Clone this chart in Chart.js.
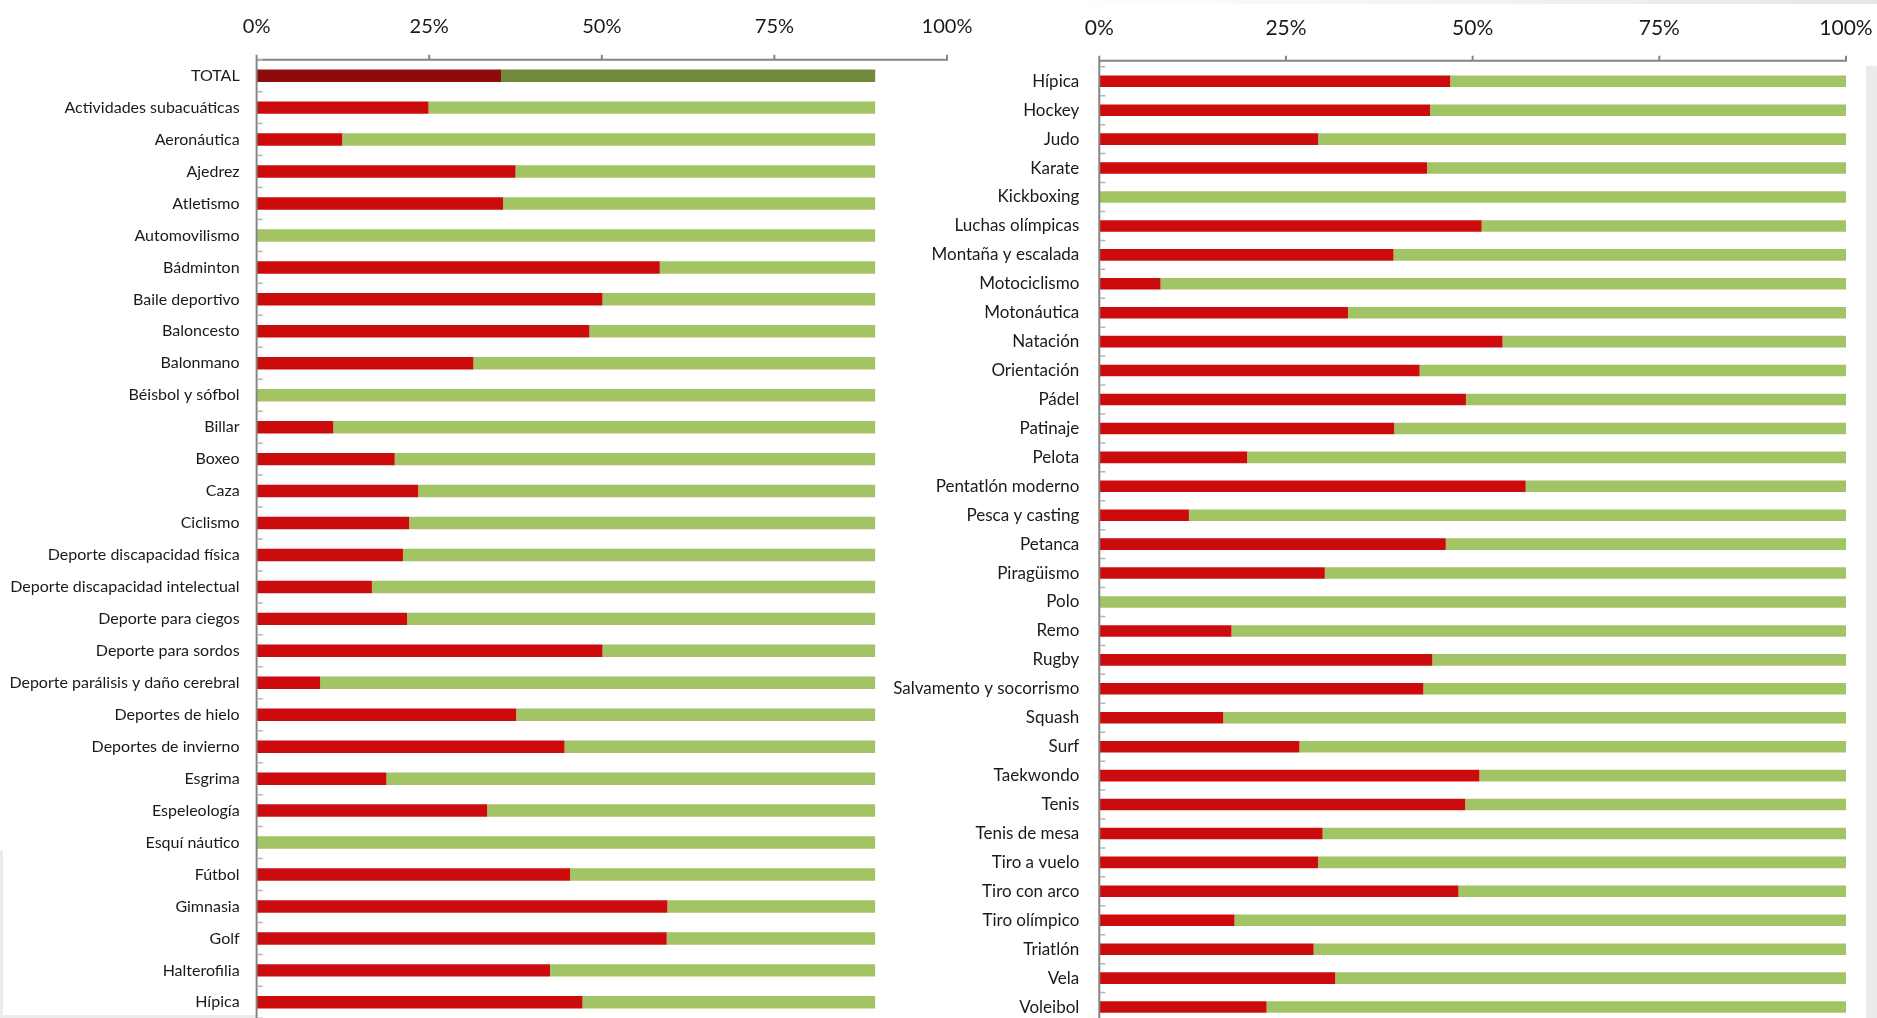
<!DOCTYPE html>
<html lang="es">
<head>
<meta charset="utf-8">
<title>Deportes</title>
<script src="https://cdn.jsdelivr.net/npm/chart.js@4.4.1/dist/chart.umd.min.js"></script>
<style>
  html, body { margin: 0; padding: 0; background: #fff; width: 1877px; height: 1018px; overflow: hidden; }
  canvas { position: absolute; top: 0; }
  #izq { left: 0; }
  #der { left: 860px; }
  .deco { position: absolute; }
</style>
</head>
<body>
<div class="deco" style="left:1866px;top:66px;width:11px;height:952px;background:#ebebeb"></div>
<div class="deco" style="left:1050px;top:0;width:827px;height:4px;background:linear-gradient(to right,#ffffff,#e6e6e6)"></div>
<div class="deco" style="left:0;top:850px;width:3px;height:168px;background:#ececec"></div>
<div class="deco" style="left:0;top:1015px;width:256px;height:3px;background:#ececec"></div>
<canvas id="izq" width="990" height="1030"></canvas>
<canvas id="der" width="1017" height="1035"></canvas>
<script>
// columna izquierda
const deportesIzq = ['TOTAL', 'Actividades subacuáticas', 'Aeronáutica', 'Ajedrez', 'Atletismo', 'Automovilismo',
  'Bádminton', 'Baile deportivo', 'Baloncesto', 'Balonmano', 'Béisbol y sófbol', 'Billar', 'Boxeo', 'Caza',
  'Ciclismo', 'Deporte discapacidad física', 'Deporte discapacidad intelectual', 'Deporte para ciegos',
  'Deporte para sordos', 'Deporte parálisis y daño cerebral', 'Deportes de hielo', 'Deportes de invierno',
  'Esgrima', 'Espeleología', 'Esquí náutico', 'Fútbol', 'Gimnasia', 'Golf', 'Halterofilia', 'Hípica'];
const rojoIzq = [35.4, 24.9, 12.4, 37.5, 35.7, 0, 58.4, 50.1, 48.2, 31.4, 0, 11.1, 20.0, 23.4, 22.1, 21.2, 16.7,
  21.8, 50.1, 9.2, 37.6, 44.6, 18.8, 33.4, 0, 45.4, 59.5, 59.4, 42.5, 47.2];
const verdeIzq = [54.2, 64.7, 77.2, 52.1, 53.9, 89.6, 31.2, 39.5, 41.4, 58.2, 89.6, 78.5, 69.6, 66.2, 67.5, 68.4,
  72.9, 67.8, 39.5, 80.4, 52.0, 45.0, 70.8, 56.2, 89.6, 44.2, 30.1, 30.2, 47.1, 42.4];

// columna derecha
const deportesDer = ['Hípica', 'Hockey', 'Judo', 'Karate', 'Kickboxing', 'Luchas olímpicas', 'Montaña y escalada',
  'Motociclismo', 'Motonáutica', 'Natación', 'Orientación', 'Pádel', 'Patinaje', 'Pelota', 'Pentatlón moderno',
  'Pesca y casting', 'Petanca', 'Piragüismo', 'Polo', 'Remo', 'Rugby', 'Salvamento y socorrismo', 'Squash', 'Surf',
  'Taekwondo', 'Tenis', 'Tenis de mesa', 'Tiro a vuelo', 'Tiro con arco', 'Tiro olímpico', 'Triatlón', 'Vela', 'Voleibol'];
const rojoDer = [47.0, 44.3, 29.3, 43.9, 0, 51.2, 39.4, 8.2, 33.3, 54.0, 42.9, 49.1, 39.5, 19.8, 57.1, 12.0, 46.4,
  30.2, 0, 17.7, 44.6, 43.4, 16.6, 26.8, 50.9, 49.0, 29.9, 29.3, 48.1, 18.1, 28.7, 31.6, 22.4];
const verdeDer = [53.0, 55.7, 70.7, 56.1, 100, 48.8, 60.6, 91.8, 66.7, 46.0, 57.1, 50.9, 60.5, 80.2, 42.9, 88.0, 53.6,
  69.8, 100, 82.3, 55.4, 56.6, 83.4, 73.2, 49.1, 51.0, 70.1, 70.7, 51.9, 81.9, 71.3, 68.4, 77.6];

const ticksPct = [0, 25, 50, 75, 100];

const ROJO = '#cc0c0c', VERDE = '#a3c465';
const ROJO_TOTAL = '#8f0a0a', VERDE_TOTAL = '#6f8a3a';

// lineas de ejes estilo excel (eje arriba separado un poco en la derecha)
const marcasEjes = {
  id: 'marcasEjes',
  afterDatasetsDraw(chart, args, opts) {
    const { ctx, chartArea, scales: { x, y } } = chart;
    const lineY = chartArea.top - opts.gap;
    const x0 = x.getPixelForValue(0);
    const x1 = x.getPixelForValue(100);
    ctx.save();
    ctx.strokeStyle = '#858585';
    ctx.lineWidth = 2;
    ctx.beginPath();
    ctx.moveTo(x0 - 1, lineY);
    ctx.lineTo(x1 + 1, lineY);
    ctx.moveTo(x0, lineY);
    ctx.lineTo(x0, chart.height);
    ticksPct.forEach(v => {
      const px = x.getPixelForValue(v);
      ctx.moveTo(px, lineY);
      ctx.lineTo(px, lineY - 5);
    });
    ctx.stroke();

    ctx.strokeStyle = '#b3b3b3';
    ctx.lineWidth = 1.5;
    ctx.beginPath();
    for (let i = 0; i <= y.ticks.length; i++) {
      const py = y.getPixelForValue(i - 0.5);
      ctx.moveTo(x0 + 1, py);
      ctx.lineTo(x0 + 6, py);
    }
    ctx.stroke();
    ctx.restore();
  }
};

function crearGrafico(id, etiquetas, rojo, verde, cfg) {
  const ctx = document.getElementById(id).getContext('2d');
  return new Chart(ctx, {
    type: 'bar',
    data: {
      labels: etiquetas,
      datasets: [
        {
          label: 'Sí',
          data: rojo,
          backgroundColor: etiquetas.map(e => e === 'TOTAL' ? ROJO_TOTAL : ROJO),
          barPercentage: cfg.barra,
          categoryPercentage: 1
        },
        {
          label: 'No',
          data: verde,
          backgroundColor: etiquetas.map(e => e === 'TOTAL' ? VERDE_TOTAL : VERDE),
          barPercentage: cfg.barra,
          categoryPercentage: 1
        }
      ]
    },
    options: {
      indexAxis: 'y',
      responsive: false,
      animation: false,
      layout: { padding: { left: 0, top: 0, right: cfg.derecha, bottom: cfg.abajo } },
      plugins: {
        legend: { display: false },
        tooltip: { enabled: false },
        marcasEjes: { gap: cfg.gap }
      },
      scales: {
        x: {
          position: 'top',
          stacked: true,
          min: 0,
          max: 100,
          afterBuildTicks: s => { s.ticks = ticksPct.map(v => ({ value: v })); },
          afterFit: s => {
            s.height = cfg.alto;
            s.paddingLeft = 0;
            s.paddingRight = 0;
          },
          ticks: {
            callback: v => v + '%',
            color: '#1a1a1a',
            padding: cfg.padX,
            font: { family: 'Lato', size: cfg.fuenteX }
          },
          grid: { display: false, drawTicks: false },
          border: { display: false }
        },
        y: {
          stacked: true,
          afterFit: s => {
            s.width = cfg.ancho;
            s.paddingTop = 0;
            s.paddingBottom = 0;
          },
          ticks: {
            autoSkip: false,
            color: '#1a1a1a',
            padding: cfg.padY,
            font: { family: 'Lato', size: cfg.fuenteY }
          },
          grid: { display: false, drawTicks: false },
          border: { display: false }
        }
      }
    },
    plugins: [marcasEjes]
  });
}

crearGrafico('izq', deportesIzq, rojoIzq, verdeIzq, {
  ancho: 256.6, alto: 59.7, derecha: 43, abajo: 11.7, gap: 0,
  padX: 20.7, padY: 17, fuenteX: 20, fuenteY: 16, barra: 0.39
});

crearGrafico('der', deportesDer, rojoDer, verdeDer, {
  ancho: 239.3, alto: 66.8, derecha: 31, abajo: 13.5, gap: 6,
  padX: 26.3, padY: 20, fuenteX: 21, fuenteY: 17, barra: 0.40
});
</script>
</body>
</html>
